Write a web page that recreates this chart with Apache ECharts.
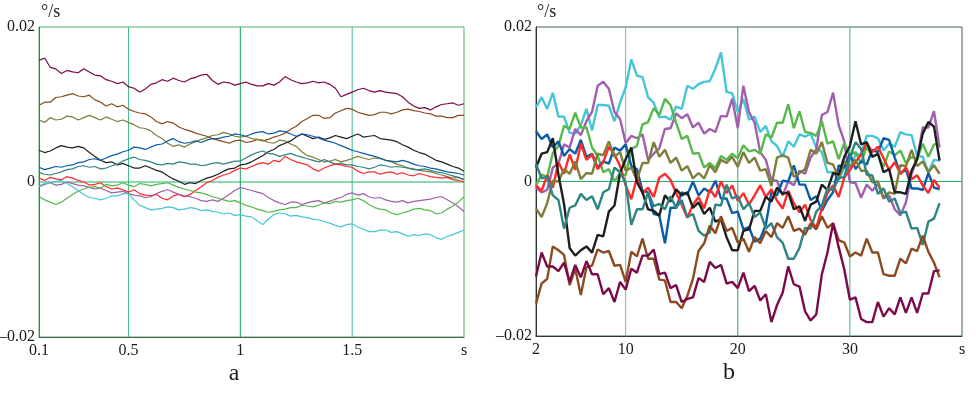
<!DOCTYPE html>
<html>
<head>
<meta charset="utf-8">
<script src="https://cdn.jsdelivr.net/npm/echarts@6/dist/echarts.min.js"></script>
<style>
html,body{margin:0;padding:0;background:#fff;}
#chart{width:976px;height:393px;}
</style>
</head>
<body>
<div id="chart"></div>
<script>
// ---------- Panel a : t = 0.1 … 2.0 s, step 0.025 s (values in 1e-3 °/s) ----------
const aMaroon = [15.7,16.0,14.8,14.6, 14.0,14.4,14.2,14.1, 14.6,14.2,13.8,13.7, 13.2,13.0,12.7,12.9, 12.3,12.1,11.6,12.0,
  12.6,12.8,13.2,13.0, 13.4,13.1,12.9,13.3, 13.5,13.8,13.9,13.1, 12.6,12.9,12.8,12.5, 12.7,12.9,12.6,12.4,
  12.4,12.7,12.5,12.9, 13.6,13.2,12.9,12.7, 12.8,13.0,12.8,12.9, 12.6,12.1,11.0,11.3, 11.6,11.9,12.1,11.8,
  11.6,11.8,11.6,11.5, 11.4,11.0,10.3,9.8, 9.5,9.6,9.3,9.7, 10.0,10.1,10.2,9.9, 10.1];
const aBrown = [9.9,10.3,10.3,10.9, 11.0,11.2,11.4,11.1, 11.0,11.2,10.6,10.3, 9.8,10.1,9.7,9.9, 9.4,9.1,8.9,8.8,
  8.4,7.8,7.5,7.8, 7.6,7.1,6.8,6.6, 6.3,6.1,5.9,5.6, 5.4,5.2,5.0,5.3, 5.4,5.1,5.2,5.5,
  5.3,5.5,5.8,6.0, 6.3,6.8,7.2,7.8, 8.2,8.6,8.6,8.2, 8.3,8.9,9.2,9.5, 9.4,9.0,8.8,8.6,
  8.7,9.0,9.0,8.8, 9.0,9.3,9.4,9.2, 9.1,8.9,8.8,8.5, 8.5,8.3,8.3,8.6, 8.6];
const aOlive = [8.0,7.7,8.3,8.0, 8.1,8.5,8.4,8.0, 8.3,8.6,8.3,8.0, 8.4,8.1,7.8,8.0, 7.7,7.4,7.0,6.9,
  6.6,6.0,5.6,5.0, 4.6,4.8,4.5,4.9, 5.2,5.5,5.7,6.0, 6.1,6.4,6.2,5.9, 5.8,5.9,5.6,5.5,
  5.4,5.1,5.0,5.4, 5.3,4.9,4.6,3.9, 3.4,3.2,2.9,2.6, 2.7,2.9,2.6,2.8, 3.0,3.3,3.1,2.9,
  3.1,3.0,2.8,2.6, 2.3,2.1,1.8,1.7, 1.5,1.4,1.3,1.1, 0.9,0.7,0.5,0.6, 0.3];
const aBlack = [4.1,3.8,4.0,4.4, 4.7,4.5,4.4,4.6, 4.4,3.8,3.3,2.8, 2.5,2.6,2.2,2.4, 2.1,1.8,1.8,2.1,
  1.8,1.5,1.3,0.8, 0.4,0.1,-0.3,-0.1, -0.2,0.2,0.5,0.7, 1.0,1.4,1.7,1.8, 2.2,2.3,2.6,3.0,
  3.4,3.9,4.2,4.7, 5.0,5.3,5.8,6.2, 5.9,5.6,5.8,5.5, 5.7,6.0,5.8,5.6, 5.9,6.2,5.8,5.9,
  6.0,5.6,5.5,5.4, 5.2,4.8,4.5,4.1, 3.8,3.6,3.2,2.8, 2.6,2.3,2.0,1.8, 1.4];
const aBlue = [1.9,1.6,1.8,2.0, 1.9,2.1,2.2,2.5, 2.6,2.9,3.0,2.8, 3.1,3.4,3.6,3.9, 4.1,4.5,4.4,4.2,
  4.5,4.8,4.9,5.3, 5.6,5.2,5.0,5.1, 5.3,5.1,5.4,5.6, 5.6,5.8,5.9,6.2, 6.1,5.9,6.2,6.4,
  6.5,6.2,6.3,6.6, 6.5,6.2,5.9,6.2, 6.1,5.9,5.7,5.4, 5.2,5.0,4.7,4.4, 4.1,3.9,3.7,3.5,
  3.3,3.1,2.8,2.7, 2.6,2.8,2.6,2.3, 2.1,2.0,1.8,1.7, 1.5,1.3,1.2,1.1, 0.9];
const aTeal = [1.2,1.0,0.9,1.1, 1.3,1.6,1.7,2.0, 2.1,1.9,2.0,1.7, 1.8,2.1,2.3,2.7, 3.0,3.2,2.9,2.8,
  2.6,2.3,2.2,2.4, 2.3,2.6,2.5,2.3, 2.3,2.1,2.2,2.4, 2.5,2.3,2.5,2.7, 2.7,3.1,3.5,3.8,
  4.0,3.7,3.6,3.3, 3.5,3.7,3.4,3.2, 3.0,2.8,2.6,2.9, 2.6,2.3,2.4,2.2, 2.2,2.0,1.9,1.7,
  1.9,2.2,2.1,1.9, 2.0,1.9,1.8,1.6, 1.6,1.7,1.5,1.3, 1.2,1.0,0.8,0.6, 0.3];
const aRed = [0.5,0.2,0.6,0.4, 0.3,0.7,0.5,0.2, 0.0,-0.4,-0.3,-0.1, -0.6,-0.9,-0.8,-1.0, -1.3,-1.0,-1.5,-1.7,
  -1.8,-1.6,-2.1,-2.3, -1.8,-1.6,-1.9,-1.6, -1.1,-0.6,-0.1,0.2, 0.6,0.9,1.1,1.5, 1.8,1.7,2.0,2.3,
  2.5,2.3,2.8,2.6, 3.3,2.9,2.6,2.4, 2.2,1.7,1.4,1.8, 2.1,2.3,2.2,2.0, 1.9,1.4,1.1,1.3,
  1.3,1.0,1.2,1.3, 1.0,1.2,0.9,0.8, 1.1,0.9,0.7,0.6, 0.5,0.6,0.3,0.2, 0.0];
const aPurple = [-0.6,-0.3,-0.1,-0.4, -0.3,0.0,-0.2,-0.4, -0.5,-0.7,-0.9,-0.8, -1.1,-1.4,-1.3,-1.2, -1.5,-1.7,-1.8,-2.0,
  -1.9,-1.5,-1.2,-1.0, -1.3,-1.6,-1.8,-1.9, -2.1,-2.4,-2.5,-2.3, -2.5,-2.1,-1.6,-1.1, -0.7,-0.9,-1.1,-1.3,
  -1.5,-2.0,-2.4,-2.7, -2.9,-2.6,-2.6,-2.9, -2.7,-2.5,-2.4,-2.7, -2.5,-2.2,-2.0,-1.6, -1.4,-1.7,-1.5,-1.9,
  -2.1,-2.0,-2.3,-2.5, -2.6,-2.4,-2.7,-2.5, -2.4,-2.3,-2.2,-2.0, -1.9,-2.3,-2.7,-3.2, -3.8];
const aGreen = [-1.9,-2.3,-2.6,-2.9, -2.6,-2.1,-1.6,-1.2, -0.9,-0.7,-0.6,-0.8, -0.3,-0.5,-0.4,-0.1, -0.4,-0.6,-0.2,-0.3,
  -0.5,-0.3,-0.2,-0.1, -0.4,-0.7,-0.9,-1.1, -1.3,-1.4,-1.6,-1.9, -2.1,-2.3,-2.5,-2.4, -2.7,-3.0,-3.2,-3.5,
  -3.7,-3.9,-3.8,-3.6, -3.5,-3.3,-3.3,-3.0, -3.1,-3.2,-3.0,-2.7, -2.8,-2.5,-2.6,-2.4, -2.3,-2.1,-2.4,-2.9,
  -3.3,-3.5,-3.6,-4.0, -4.2,-4.0,-3.8,-3.5, -3.4,-3.6,-3.7,-4.1, -4.0,-3.5,-3.1,-2.6, -1.9];
const aCyan = [-0.5,-0.2,-0.1,0.1, 0.2,-0.2,-0.6,-1.1, -1.6,-2.0,-2.1,-2.3, -2.1,-1.8,-1.8,-1.5, -1.5,-2.3,-3.0,-3.3,
  -3.6,-3.5,-3.4,-3.2, -3.3,-3.6,-3.5,-3.3, -3.4,-3.7,-3.6,-3.8, -3.9,-4.1,-4.0,-4.3, -4.2,-4.4,-4.5,-5.0,
  -5.5,-4.8,-4.2,-4.0, -4.1,-4.4,-4.3,-4.5, -4.6,-4.8,-4.9,-5.1, -5.3,-5.6,-5.8,-5.5, -5.4,-5.8,-6.1,-6.4,
  -6.4,-6.2,-6.2,-6.5, -6.4,-6.7,-7.0,-6.8, -6.9,-6.7,-6.8,-7.2, -7.4,-7.0,-6.8,-6.5, -6.2];

// ---------- Panel b : t = 2 … 38 s, step 0.5 s (values in 1e-3 °/s) ----------
const bCyan = [9.6,10.9,9.4,11.5,8.4,8.4,6.3,6.2,7.3,9.4, 6.6,9.9,9.9,9.8,7.8,10.2,12.2,15.8,13.7,13.5,
  10.9,10.2,8.3,8.4,8.0,9.7,9.4,12.4,12.0,12.6, 12.9,13.0,14.6,16.7,11.6,11.4,9.0,10.7,8.0,8.4,
  6.4,7.2,5.2,4.6,3.2,5.2,4.5,6.1,5.8,6.2, 4.4,3.8,1.2,1.2,0.2,1.8,1.4,3.5,3.5,5.9,
  5.9,5.6,4.0,4.9,4.5,6.4,6.1,6.0,3.3,3.2, 1.2,2.8,2.7];
const bPurple = [-0.8,-1.4,-1.1,1.8,2.3,4.8,4.4,6.8,6.0,7.8, 9.0,12.4,12.9,12.0,9.0,8.1,5.0,5.9,5.6,6.1,
  2.8,3.6,4.3,6.8,6.9,8.8,8.2,8.7,7.0,7.6, 6.2,6.8,6.4,8.5,8.4,10.7,6.9,12.4,9.0,7.6,
  3.8,2.8,0.2,0.1,-1.8,0.0,-0.5,1.4,1.0,3.1, 4.2,8.6,9.0,11.5,7.3,5.2,-0.1,-0.2,-2.1,-0.4,
  -1.2,-0.3,-2.2,-1.8,-3.6,-4.4,-2.7,1.0,2.9,7.0, 7.0,9.1,4.4];
const bGreen = [-0.5,0.9,0.6,3.7,4.6,7.2,6.8,8.9,7.0,7.0, 4.4,3.3,1.2,1.6,0.0,1.1,0.8,4.2,4.6,7.4,
  7.7,9.5,8.6,10.7,9.9,7.6,5.5,5.9,3.6,3.7, 1.8,2.4,1.7,3.3,2.8,3.6,3.0,4.7,3.9,4.1,
  3.6,6.1,5.7,7.6,7.6,10.0,6.9,9.1,6.4,6.3, 5.9,7.8,4.9,5.2,2.9,5.0,3.4,3.8,2.4,4.5,
  3.2,3.5,1.9,3.9,3.4,4.0,2.4,3.2,2.9,4.9, 3.2,4.8,4.9];
const bBlue = [6.5,5.5,6.1,4.4,5.2,3.3,4.2,3.6,5.4,3.2, 3.6,1.8,2.6,2.3,4.4,4.0,4.8,2.0,1.6,-1.2,
  -1.4,-4.2,-4.4,-8.0,-3.4,-3.4,-1.4,-1.7,0.0,-1.8, -0.9,-1.4,0.1,-2.2,-2.2,-4.1,-3.9,-6.2,-5.9,-7.8,
  -7.4,-5.6,-1.4,-1.8,0.1,0.0,2.1,-0.4,-0.4,-2.4, -1.9,-3.8,-2.4,-1.4,2.1,1.8,3.6,1.6,2.6,2.2,
  4.1,3.8,5.6,5.4,3.1,1.0,1.6,-0.9,-0.9,-1.1, 1.1,-0.8,-1.0];
const bRed = [-0.5,-1.2,0.8,-0.8,2.5,1.0,3.5,1.5,4.9,2.8, 3.5,1.6,2.5,4.5,3.5,2.0,-0.5,-2.3,0.5,-1.5,
  -0.8,-2.0,0.5,1.0,0.2,-1.5,-3.0,-4.7,-3.0,-2.0, -3.5,-1.0,-2.0,0.0,-1.5,-0.5,-2.5,-1.5,-3.0,-1.8,
  -0.5,-2.0,-1.0,-2.5,-3.5,-1.2,-2.8,-4.0,-3.0,-5.0, -6.0,-3.5,-1.5,-0.5,-2.0,0.5,1.5,2.5,3.5,5.0,
  3.8,4.5,3.0,1.5,2.5,1.0,1.8,0.3,0.8,-0.5, -1.5,0.2,-0.8];
const bBlack = [1.8,3.6,3.8,5.6,0.9,-2.9,-8.6,-9.6,-8.9,-8.4, -9.2,-6.9,-7.1,-3.9,-3.1,1.1,2.9,4.4,-0.1,-1.4,
  -3.6,-3.8,-4.4,-1.8,-2.6,-1.0,-1.8,-1.4,-3.4,-2.7, -4.2,-3.4,-5.2,-4.9,-7.2,-8.9,-8.9,-6.4,-6.2,-3.8,
  -3.8,-2.0,-2.6,-0.8,-1.6,-1.4,-3.6,-3.2,-5.1,-3.0, -2.6,-0.4,-1.1,1.1,0.9,3.2,4.6,7.8,4.8,5.1,
  3.2,3.6,1.2,1.6,-1.4,-1.4,-1.6,1.4,2.9,6.2, 7.7,7.1,2.7];
const bTeal = [2.3,0.4,0.6,-1.8,-2.4,-6.1,-3.4,-3.1,-1.6,-2.4, -1.9,-3.6,-1.4,-1.0,1.8,1.2,-0.2,-5.6,-3.6,-3.6,
  -1.4,-3.2,-2.9,-3.6,-1.9,-3.4,-2.4,-4.6,-4.2,-6.4, -7.0,-6.6,-3.0,-3.1,-0.4,-2.2,-1.9,-3.6,-2.8,-4.6,
  -4.0,-6.1,-5.4,-7.2,-7.9,-10.0,-10.0,-8.6,-6.0,-6.1, -3.9,-3.1,-0.9,-1.1,0.4,0.6,3.1,5.1,4.2,0.9,
  0.8,-1.6,-0.9,-2.6,-2.2,-4.1,-3.9,-6.1,-6.0,-8.2, -5.2,-4.8,-2.8];
const bOlive = [-3.5,-4.6,-2.8,0.1,0.0,1.6,1.0,2.6,0.3,1.1, 1.0,3.6,3.4,5.2,3.2,3.8,1.4,1.8,0.2,2.4,
  2.4,5.1,3.2,4.1,2.4,3.1,1.4,2.0,0.4,1.1, 0.4,2.1,1.2,2.8,2.4,3.2,1.9,3.8,2.4,3.1,
  1.4,1.6,-0.6,3.1,3.4,3.1,0.6,1.1,1.6,4.1, 3.6,5.1,2.4,2.2,0.4,2.6,1.9,2.8,1.4,1.4,
  -0.1,0.0,-2.1,-1.4,-1.6,2.1,2.0,4.1,2.0,2.6, 1.2,2.1,1.0];
const bBrown = [-15.8,-13.2,-12.6,-8.4,-8.9,-9.5,-13.4,-11.3,-14.7,-11.1, -10.9,-8.8,-9.2,-9.0,-10.9,-10.8,-13.0,-9.1,-9.7,-7.4,
  -10.0,-10.0,-12.7,-12.8,-15.6,-15.6,-16.4,-14.8,-12.6,-9.0, -8.0,-5.7,-6.7,-4.5,-6.4,-6.0,-7.9,-7.4,-9.1,-7.2,
  -8.0,-6.4,-7.2,-5.4,-6.0,-4.5,-6.4,-6.1,-6.9,-5.4, -6.2,-4.5,-6.0,-5.4,-7.6,-7.9,-9.7,-9.2,-9.6,-7.4,
  -9.2,-9.2,-12.0,-12.2,-12.2,-10.0,-10.6,-8.7,-9.0,-7.0, -9.1,-10.5,-12.4];
const bMaroon = [-12.3,-9.2,-11.0,-11.0,-11.6,-10.5,-13.0,-10.8,-12.4,-10.3, -12.0,-12.0,-14.6,-13.8,-15.6,-13.0,-14.0,-11.3,-11.8,-9.6,
  -9.6,-8.8,-12.0,-11.8,-13.8,-13.4,-15.6,-15.2,-15.0,-12.5, -13.0,-10.4,-11.2,-10.8,-13.2,-13.0,-13.8,-11.8,-14.2,-13.5,
  -15.4,-14.6,-18.2,-16.0,-14.4,-11.0,-13.3,-13.6,-16.8,-18.0, -17.2,-12.0,-9.2,-5.4,-8.5,-11.4,-15.3,-15.0,-17.8,-18.2,
  -18.2,-15.6,-17.5,-16.4,-17.2,-15.0,-17.0,-15.0,-17.0,-14.5, -14.5,-11.6,-11.5];

// axis tick values and grid-line values
const aTicks = [0.1, 0.5, 1, 1.5, 2.0];
const bTicks = [2, 10, 20, 30, 40];
const aGridX = [0.5, 1, 1.5];
const bGridX = [10, 20, 30];

// time grids
const tA = []; for (let i = 0; i < aMaroon.length; i++) tA.push(+(0.1 + i * 0.025).toFixed(3));
const tB = []; for (let i = 0; i < bMaroon.length; i++) tB.push(+(2 + i * 0.5).toFixed(2));

const colors = {maroon:'#7c0a4a', brown:'#8b4a1f', olive:'#7f7d3a', black:'#1e1e1e', blue:'#0a5ca8',
  teal:'#2f8582', red:'#ff2a2a', purple:'#a15fae', green:'#57b84b', cyan:'#45c6d6'};

const aSeries = [['maroon',aMaroon],['brown',aBrown],['olive',aOlive],['black',aBlack],['blue',aBlue],
  ['teal',aTeal],['red',aRed],['purple',aPurple],['green',aGreen],['cyan',aCyan]];
const bSeries = [['cyan',bCyan],['purple',bPurple],['green',bGreen],['blue',bBlue],['red',bRed],
  ['olive',bOlive],['black',bBlack],['teal',bTeal],['brown',bBrown],['maroon',bMaroon]];

const FONT = "'Liberation Serif', 'Times New Roman', serif";

function mkSeries(list, t, idx, width) {
  return list.map(([name, vals]) => ({
    type: 'line', name, xAxisIndex: idx, yAxisIndex: idx, z: 3,
    showSymbol: false, symbol: 'none', animation: false, silent: true,
    lineStyle: {color: colors[name], width},
    data: vals.map((v, i) => [t[i], v / 1000])
  }));
}
function gridLineSeries(idx, xs, xmin, xmax, colorsV, colorZero) {
  const out = xs.map((x, k) => ({
    type: 'line', xAxisIndex: idx, yAxisIndex: idx, z: 1, silent: true, showSymbol: false, symbol: 'none',
    lineStyle: {color: colorsV[k], width: 1}, data: [[x, -0.02], [x, 0.02]]
  }));
  out.push({type: 'line', xAxisIndex: idx, yAxisIndex: idx, z: 1, silent: true, showSymbol: false, symbol: 'none',
    lineStyle: {color: colorZero, width: 1}, data: [[xmin, 0], [xmax, 0]]});
  return out;
}
function yAxis(idx, lineColor) {
  return {
    type: 'value', gridIndex: idx, min: -0.02, max: 0.02, interval: 0.02,
    axisLine: {show: true, onZero: false, lineStyle: {color: lineColor, width: 1}},
    axisTick: {show: false}, splitLine: {show: false}, minorSplitLine: {show: false},
    axisLabel: {color: '#1a1a1a', fontFamily: FONT, fontSize: 16, margin: 4,
      formatter: v => Math.abs(v) < 1e-9 ? '0' : (v < 0 ? '\u20130.02' : '0.02')}
  };
}
function xAxis(idx, min, max, ticks, lineColor) {
  return {
    type: 'value', gridIndex: idx, min, max,
    axisLine: {show: true, onZero: false, lineStyle: {color: lineColor, width: 1}},
    axisTick: {show: false}, splitLine: {show: false}, minorSplitLine: {show: false},
    axisLabel: {color: '#1a1a1a', fontFamily: FONT, fontSize: 16, margin: 6,
      customValues: ticks, showMinLabel: true, showMaxLabel: true,
      formatter: v => (Math.abs(v - max) < 1e-9 ? 's' : String(v))}
  };
}

const chart = echarts.init(document.getElementById('chart'), null, {renderer: 'canvas'});
chart.setOption({
  animation: false,
  backgroundColor: '#ffffff',
  grid: [
    {left: 39, top: 27, width: 425, height: 310, containLabel: false, outerBoundsMode: 'none',
      show: true, borderColor: '#4fb36a', borderWidth: 1, backgroundColor: 'transparent'},
    {left: 536, top: 27, width: 426, height: 309, containLabel: false, outerBoundsMode: 'none',
      show: true, borderColor: '#3f6352', borderWidth: 1, backgroundColor: 'transparent'}
  ],
  xAxis: [xAxis(0, 0.1, 2.0, aTicks, '#555555'), xAxis(1, 2, 40, bTicks, '#333333')],
  yAxis: [yAxis(0, '#666666'), yAxis(1, '#333333')],
  series: []
    .concat(gridLineSeries(0, aGridX, 0.1, 2.0, ['#45bd85', '#12a35c', '#45bd85'], '#1fae66'))
    .concat(gridLineSeries(1, bGridX, 2, 40, ['#62c596', '#22a866', '#3bb279'], '#1fae66'))
    .concat(mkSeries(aSeries, tA, 0, 1.2))
    .concat(mkSeries(bSeries, tB, 1, 2.4)),
  graphic: [
    {type: 'text', left: 41, top: 3, style: {text: '\u00b0/s', fontSize: 18, fontFamily: FONT, fill: '#1a1a1a'}},
    {type: 'text', left: 537, top: 3, style: {text: '\u00b0/s', fontSize: 18, fontFamily: FONT, fill: '#1a1a1a'}},
    {type: 'text', x: 234, y: 374, style: {text: 'a', fontSize: 24, fontFamily: FONT, fill: '#1a1a1a', align: 'center', verticalAlign: 'middle'}},
    {type: 'text', x: 729, y: 373, style: {text: 'b', fontSize: 24, fontFamily: FONT, fill: '#1a1a1a', align: 'center', verticalAlign: 'middle'}}
  ]
});
</script>
</body>
</html>
